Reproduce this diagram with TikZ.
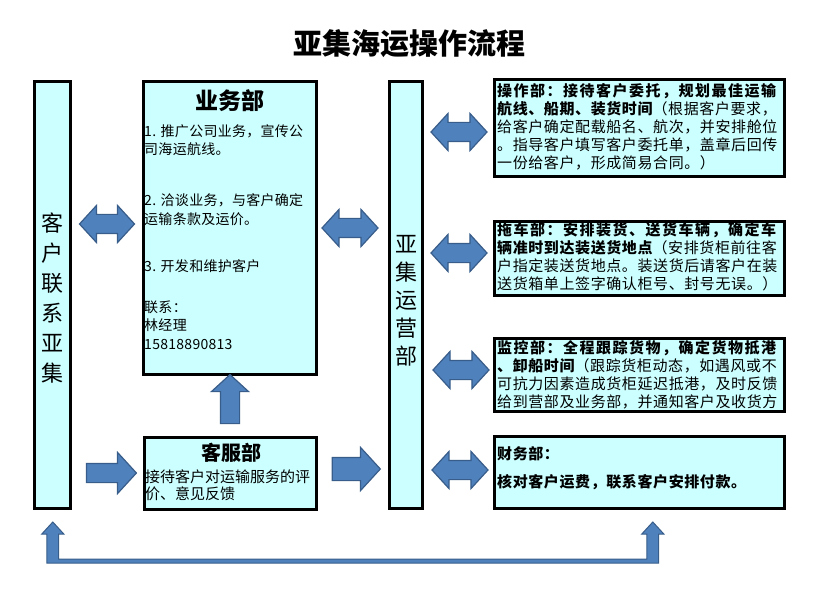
\documentclass[tikz,border=0pt]{standalone}
\usepackage{fontspec}
\setmainfont{Noto Sans CJK SC}
\usetikzlibrary{shapes.arrows}
\definecolor{boxfill}{HTML}{CCFFFF}
\definecolor{arrfill}{HTML}{4F81BD}
\definecolor{arrline}{HTML}{385D8A}
\newcommand\wideb{\bfseries\addfontfeature{LetterSpace=10}}
\tikzset{
  box/.style={draw=black, line width=3pt, fill=boxfill, inner sep=0pt},
  dblarrow/.style={double arrow, draw=arrline, fill=arrfill, line width=1.2pt, inner sep=9pt,
     minimum width=36pt, double arrow head extend=9pt, double arrow tip angle=95, minimum height=#1},
  dblarrow/.default=56pt,
  sglarrow/.style={single arrow, draw=arrline, fill=arrfill, line width=1.2pt, inner sep=9pt,
     single arrow tip angle=95},
  ltxt/.style={inner sep=0pt, anchor=west, font=\fontsize{14}{17}\selectfont\addfontfeature{LetterSpace=2}},
  ktxt/.style={inner sep=0pt, anchor=west, font=\fontsize{15}{17}\selectfont},
  rtxt/.style={inner sep=0pt, anchor=west, font=\fontsize{15}{18}\selectfont\addfontfeature{LetterSpace=4}},
  vtxt/.style={inner sep=0pt, align=center},
  head/.style={inner sep=0pt, font=\bfseries}
}
\begin{document}
\begin{tikzpicture}[x=1pt,y=-1pt]
\useasboundingbox (0,0) rectangle (837,612);

% title
\node[head, font=\fontsize{29}{30}\bfseries\selectfont] (title) at (409,44) {亚集海运操作流程};

% boxes
\node[box, minimum width=36pt, minimum height=427pt] (kehu) at (52.5,295) {};
\node[box, minimum width=173pt, minimum height=293pt] (yewu) at (230,228) {};
\node[box, minimum width=172pt, minimum height=72pt] (kefu) at (230.5,473.5) {};
\node[box, minimum width=33pt, minimum height=427pt] (yunying) at (406,295) {};
\node[box, minimum width=290pt, minimum height=97pt] (caozuo) at (639.5,128) {};
\node[box, minimum width=290pt, minimum height=74pt] (tuoche) at (639.5,258.5) {};
\node[box, minimum width=290pt, minimum height=73pt] (jiankong) at (639.5,375) {};
\node[box, minimum width=290pt, minimum height=72pt] (caiwu) at (639.5,472.5) {};

% vertical texts
\node[vtxt, font=\fontsize{22}{30}\selectfont] (kehut) at (52.5,298) {客\\户\\联\\系\\亚\\集};
\node[vtxt, font=\fontsize{22}{28}\selectfont] (yunyingt) at (406,301) {亚\\集\\运\\营\\部};

% yewu text
\node[head, font=\fontsize{23}{24}\bfseries\selectfont] (yewuh) at (230,101) {业务部};
\node[ltxt] (y1) at (144,131) {1. 推广公司业务，宣传公};
\node[ltxt] (y2) at (144,149) {司海运航线。};
\node[ltxt] (y3) at (144,200) {2. 洽谈业务，与客户确定};
\node[ltxt] (y4) at (144,219) {运输条款及运价。};
\node[ltxt] (y5) at (144,266) {3. 开发和维护客户};
\node[ltxt] (y6) at (144,307) {联系：};
\node[ltxt] (y7) at (144,325) {林经理};
\node[ltxt] (y8) at (144,345) {15818890813};

% kefu text
\node[head, font=\fontsize{20}{21}\bfseries\selectfont] (kefuh) at (231,453) {客服部};
\node[ktxt] (k1) at (145,477) {接待客户对运输服务的评};
\node[ktxt] (k2) at (145,494) {价、意见反馈};

% right box texts
\node[rtxt] (c1) at (497,91) {\wideb 操作部：接待客户委托，规划最佳运输};
\node[rtxt] (c2) at (497,109) {{\bfseries 航线、船期、装货时间}（根据客户要求，};
\node[rtxt] (c3) at (497,127) {给客户确定配载船名、航次，并安排舱位};
\node[rtxt] (c4) at (497,145) {。指导客户填写客户委托单，盖章后回传};
\node[rtxt] (c5) at (497,163) {一份给客户，形成简易合同。）};

\node[rtxt] (t1) at (497,230) {\wideb 拖车部：安排装货、送货车辆，确定车};
\node[rtxt] (t2) at (497,248) {{\bfseries 辆准时到达装送货地点}（安排货柜前往客};
\node[rtxt] (t3) at (497,266) {户指定装送货地点。装送货后请客户在装};
\node[rtxt] (t4) at (497,284) {送货箱单上签字确认柜号、封号无误。）};

\node[rtxt] (j1) at (497,348) {\wideb 监控部：全程跟踪货物，确定货物抵港};
\node[rtxt] (j2) at (497,366) {{\bfseries 、卸船时间}（跟踪货柜动态，如遇风或不};
\node[rtxt] (j3) at (497,384) {可抗力因素造成货柜延迟抵港，及时反馈};
\node[rtxt] (j4) at (497,402) {给到营部及业务部，并通知客户及收货方};

\node[rtxt] (f1) at (497,454) {\bfseries 财务部：};
\node[rtxt] (f2) at (497,482) {\bfseries 核对客户运费，联系客户安排付款。};

% block arrows
\node[dblarrow=55pt] (a1) at (107,224) {};
\node[dblarrow=56pt] (a2) at (350,228) {};
\node[dblarrow] (a3) at (459,132) {};
\node[dblarrow] (a4) at (459,253) {};
\node[dblarrow] (a5) at (461,370) {};
\node[dblarrow] (a6) at (460,470) {};
\node[sglarrow, minimum height=50pt, single arrow head extend=11pt] (r1) at (107,473) {};
\node[sglarrow, inner sep=11pt, minimum height=48pt, single arrow head extend=10pt] (r2) at (351,469) {};
\node[sglarrow, shape border rotate=90, minimum height=49pt, single arrow head extend=9pt] (up) at (230,403.5) {};

% bottom connector
\coordinate (bL) at (52.8,522);
\coordinate (bR) at (652.8,522);
\draw[draw=arrline, fill=arrfill, line width=1pt, line join=miter]
  (bL) -- (63.8,534) -- (58.7,534) -- (58.7,559) -- (646.9,559) -- (646.9,534) -- (641.8,534)
  -- (bR) -- (663.8,534) -- (658.7,534) -- (658.7,563) -- (46.9,563) -- (46.9,534) -- (41.8,534) -- cycle;
\end{tikzpicture}
\end{document}
